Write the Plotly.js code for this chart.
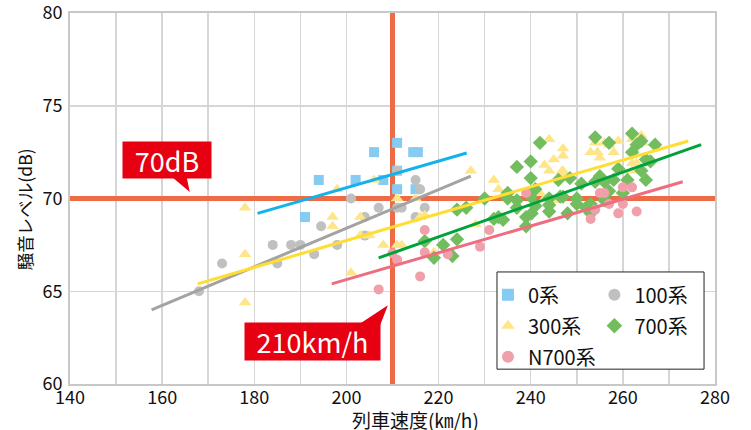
<!DOCTYPE html>
<html>
<head>
<meta charset="utf-8">
<script src="https://cdn.plot.ly/plotly-3.0.1.min.js"></script>
<style>html,body{margin:0;padding:0;background:#fff;}#chart{width:751px;height:430px;}</style>
</head>
<body>
<div id="chart"></div>
<script>
// ---- data ----
var seriesNames = ['0系', '100系', '300系', '700系', 'N700系'];

var s0x = [191, 194, 202, 206, 208, 211, 211, 211, 214.5, 215.5, 215];
var s0y = [69.0, 71.0, 71.0, 72.5, 71.0, 73.0, 71.5, 70.5, 72.5, 72.5, 70.5];

var s100x = [168, 173, 184, 185, 188, 190, 193, 194.5, 198, 201, 204, 204, 207, 211, 211, 212, 215, 216, 217, 215];
var s100y = [65.0, 66.5, 67.5, 66.5, 67.5, 67.5, 67.0, 68.5, 67.5, 70.0, 69.0, 68.0, 69.5, 71.5, 69.5, 69.5, 71.0, 70.5, 69.5, 69.0];

var s300x = [178, 178, 178, 198, 197, 197, 203, 203, 205, 206, 208, 211, 211, 212, 215, 216, 217, 201, 219,
             227, 228, 232, 233, 242, 243, 244, 243, 245, 244, 247, 247, 247, 247, 245.5, 246.7,
             254, 256, 253, 254.5, 255, 257, 258, 259, 262, 264, 264.3, 262, 263, 262, 260, 255];
var s300y = [69.5, 67.0, 64.4, 70.5, 69.0, 68.5, 69.0, 68.0, 68.0, 71.0, 67.5, 70.0, 67.5, 67.5, 70.0, 69.0, 69.1, 66.0, 67.1,
             71.5, 68.6, 71.0, 70.5, 70.3, 70.0, 73.2, 71.8, 72.1, 71.5, 72.7, 72.3, 71.5, 71.3, 69.9, 71.45,
             73.0, 73.0, 72.5, 72.5, 72.2, 72.9, 72.5, 73.1, 73.2, 73.4, 73.0, 71.9, 71.9, 71.5, 71.5, 70.9];

var s700x = [217, 221, 219, 223, 224, 224, 226, 230, 232, 233, 234, 235, 235, 237, 237, 237, 239, 239,
             240, 240, 240, 240.2, 241, 241, 242, 244, 244, 244, 246, 247, 248, 248.5, 246.4, 250, 250,
             251, 252, 253, 253, 254, 254, 255, 256, 256, 257, 257, 258, 259, 261, 260, 262, 262, 263,
             264, 264, 265, 266, 265, 267];
var s700y = [67.7, 67.5, 66.8, 66.9, 67.8, 69.4, 69.5, 70.0, 68.9, 69.0, 68.85, 70.3, 70.0, 71.7, 69.9, 69.5, 69.0, 68.5,
             72.0, 71.1, 70.1, 69.2, 70.5, 69.6, 73.0, 70.0, 69.65, 69.3, 71.0, 70.1, 69.2, 71.1, 70.1, 70.0, 69.7,
             70.8, 69.5, 69.7, 69.2, 73.3, 70.9, 71.2, 70.9, 69.9, 73.0, 70.4, 71.0, 71.6, 71.0, 70.3, 73.5, 72.5, 72.9,
             73.1, 71.5, 72.1, 72.0, 71.0, 72.9];

var sN700x = [207, 210, 211, 216, 217, 217, 222, 229, 231, 239, 255, 256, 254, 253, 257, 259, 260, 260, 262, 263];
var sN700y = [65.1, 67.05, 66.7, 65.8, 68.3, 67.1, 67.0, 67.4, 68.3, 70.3, 70.3, 70.3, 69.4, 68.9, 69.7, 69.2, 70.6, 69.7, 70.6, 69.3];

// trend line end points
var t0x = [180.7, 226.1],   t0y = [69.2, 72.45];
var t100x = [157.7, 227],   t100y = [64.0, 71.2];
var t300x = [167.7, 274.2], t300y = [65.4, 73.1];
var t700x = [207, 277],     t700y = [66.8, 72.9];
var tN700x = [196.8, 273],  tN700y = [65.4, 70.9];

// reference values
var refSpeed = 210;
var refLevel = 70;
var xRange = [140, 280];
var yRange = [60, 80];
var xTicks = [140, 160, 180, 200, 220, 240, 260, 280];
var yTicks = [60, 65, 70, 75, 80];

// ---- styling ----
var markerColors = ['#85CBF2', '#C0C0C0', '#FFE58A', '#72BD5E', '#F0A0AA'];
var lineColors = ['#12B2EA', '#A3A3A3', '#FFDD33', '#00A23C', '#EE6E80'];
var symbols = ['square', 'circle', 'triangle-up', 'diamond', 'circle'];
var sizes = [10, 10, 11, 11, 10];
var legendOf = ['legend', 'legend2', 'legend', 'legend2', 'legend'];
var refColor = '#EE6C45';
var boxColor = '#E60012';
var FONT = '"Noto Sans CJK JP", "Noto Sans", sans-serif';

var xs = [s0x, s100x, s300x, s700x, sN700x];
var ys = [s0y, s100y, s300y, s700y, sN700y];
var txs = [t0x, t100x, t300x, t700x, tN700x];
var tys = [t0y, t100y, t300y, t700y, tN700y];

var traces = [];
// reference lines (under markers)
traces.push({x: xRange, y: [refLevel, refLevel], mode: 'lines', line: {color: refColor, width: 5},
  showlegend: false, hoverinfo: 'skip'});
traces.push({x: [refSpeed, refSpeed], y: yRange, mode: 'lines', line: {color: refColor, width: 5},
  showlegend: false, hoverinfo: 'skip'});

for (var i = 0; i < 5; i++) {
  traces.push({
    x: xs[i], y: ys[i], name: seriesNames[i], type: 'scatter', mode: 'markers',
    marker: {symbol: symbols[i], size: sizes[i], color: markerColors[i], line: {width: 0}},
    legend: legendOf[i], legendgroup: 'g' + i
  });
}
for (var j = 0; j < 5; j++) {
  traces.push({
    x: txs[j], y: tys[j], mode: 'lines', line: {color: lineColors[j], width: 3},
    showlegend: false, hoverinfo: 'skip'
  });
}

var legendCommon = {
  bgcolor: 'rgba(0,0,0,0)', borderwidth: 0, font: {family: FONT, size: 20, color: '#111'},
  yanchor: 'top', xanchor: 'left', tracegroupgap: 2, itemsizing: 'constant'
};
var legend1 = Object.assign({}, legendCommon, {x: 0.648, y: 0.293});
var legend2 = Object.assign({}, legendCommon, {x: 0.813, y: 0.293});

var layout = {
  width: 751, height: 430,
  margin: {l: 70, r: 36, t: 13, b: 46},
  paper_bgcolor: '#fff', plot_bgcolor: '#fff',
  font: {family: FONT, size: 18, color: '#111'},
  showlegend: true,
  legend: legend1,
  legend2: legend2,
  xaxis: {
    range: xRange, tickmode: 'array', tickvals: xTicks, ticktext: xTicks.map(String),
    showgrid: true, gridcolor: '#D6D6D6', gridwidth: 1.5,
    minor: {dtick: 10, tick0: 140, showgrid: true, gridcolor: '#D6D6D6', gridwidth: 1.5},
    showline: true, mirror: true, linecolor: '#C8C8C8', linewidth: 2,
    zeroline: false, ticks: '', ticklabelstandoff: -4, ticklabeloverflow: 'allow',
    tickfont: {family: FONT, size: 18, color: '#111'}
  },
  yaxis: {
    range: yRange, tickmode: 'array', tickvals: yTicks, ticktext: yTicks.map(String),
    showgrid: true, gridcolor: '#D6D6D6', gridwidth: 1.5,
    showline: true, mirror: true, linecolor: '#C8C8C8', linewidth: 2,
    zeroline: false, ticks: '', ticklabelstandoff: 2, ticklabeloverflow: 'allow',
    tickfont: {family: FONT, size: 18, color: '#111'}
  },
  shapes: [
    // legend frame
    {type: 'rect', xref: 'paper', yref: 'paper', x0: 0.662, x1: 0.983, y0: 0.040, y1: 0.302,
     line: {color: '#222', width: 1}, fillcolor: '#fff', layer: 'above'},
    // callout tails
    {type: 'path', xref: 'x', yref: 'y', path: 'M 161.5 71.3 L 165.2 71.3 L 166.0 70.35 Z',
     fillcolor: boxColor, line: {width: 0}, layer: 'above'},
    {type: 'path', xref: 'x', yref: 'y', path: 'M 202.0 63.1 L 207.2 63.1 L 209.0 64.25 Z',
     fillcolor: boxColor, line: {width: 0}, layer: 'above'}
  ],
  annotations: [
    {x: 161.1, y: 72.1, xref: 'x', yref: 'y', text: '70dB', showarrow: false,
     font: {family: FONT, size: 27, color: '#fff'}, bgcolor: boxColor, width: 88, height: 36, borderpad: 0},
    {x: 192.6, y: 62.3, xref: 'x', yref: 'y', text: '210km/h', showarrow: false,
     font: {family: FONT, size: 27, color: '#fff'}, bgcolor: boxColor, width: 135, height: 37, borderpad: 0},
    {x: 0.536, y: -0.095, xref: 'paper', yref: 'paper', yanchor: 'middle', text: '列車速度(㎞/h)',
     showarrow: false, font: {family: FONT, size: 19, color: '#111'}, borderpad: 0},
    {x: 0, y: 0.47, xref: 'paper', yref: 'paper', xanchor: 'right', xshift: -31, text: '騒音レベル(dB)',
     textangle: -90, showarrow: false, font: {family: FONT, size: 17.5, color: '#111'}}
  ]
};

Plotly.newPlot('chart', traces, layout, {displayModeBar: false, staticPlot: true});
</script>
</body>
</html>
